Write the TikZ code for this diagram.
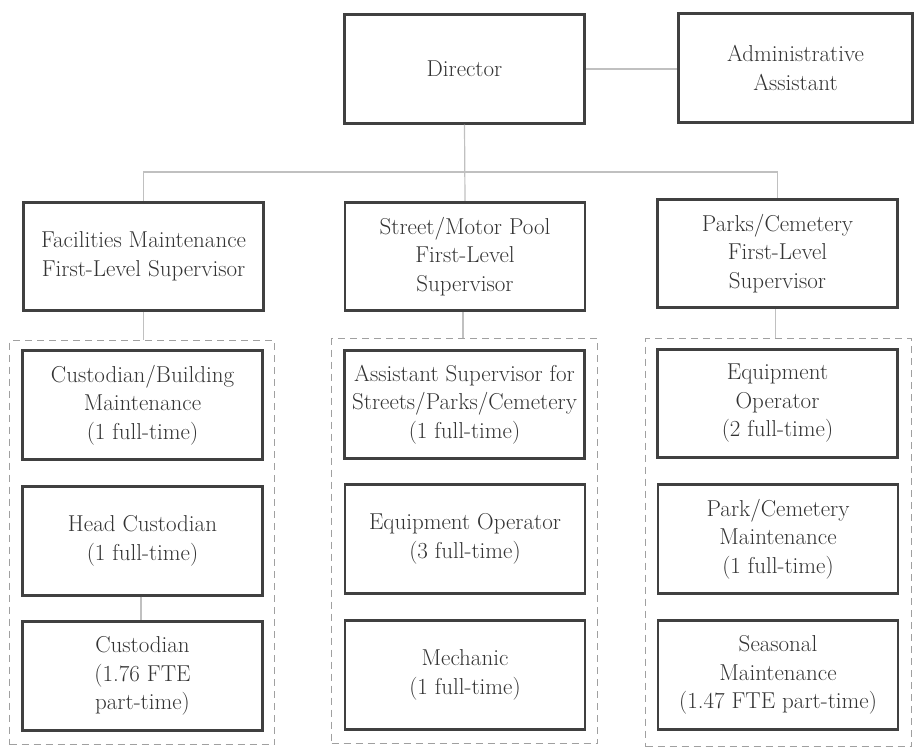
\documentclass[tikz,border=0pt]{standalone}
\usetikzlibrary{positioning}
\definecolor{boxline}{HTML}{404040}
\definecolor{txt}{HTML}{333333}
\definecolor{link}{HTML}{C0C0C0}
\definecolor{grp}{HTML}{A0A0A0}
\tikzset{
  role/.style={draw=boxline, line width=2.6pt, rectangle, inner sep=0pt,
    minimum width=240pt, minimum height=108.5pt, align=center, text=txt,
    font=\fontsize{23}{28.5}\selectfont},
  group/.style={draw=grp, line width=1.6pt, dash pattern=on 7pt off 5pt,
    rectangle, inner sep=0pt},
  wire/.style={draw=link, line width=1.2pt}
}
\begin{document}
\begin{tikzpicture}[x=1pt,y=-1pt]
\useasboundingbox (0,0) rectangle (915,751);

% dashed groups of staff under each supervisor
\node[group, minimum width=265pt, minimum height=404pt] (g1) at (142,542.5) {};
\node[group, minimum width=266pt, minimum height=405pt] (g2) at (464.5,541) {};
\node[group, minimum width=266pt, minimum height=408pt] (g3) at (778.5,542.5) {};

% top level
\node[role] (dir) at (464.5,69) {Director};
\node[role, minimum width=234pt] (adm) at (795.5,68) {Administrative\\Assistant};

% first-level supervisors
\node[role] (fac) at (143.5,256.5) {Facilities Maintenance\\First-Level Supervisor};
\node[role] (str) at (465,256.5) {Street/Motor Pool\\First-Level\\Supervisor};
\node[role] (prk) at (777.5,253.5) {Parks/Cemetery\\First-Level\\Supervisor};

% facilities staff
\node[role] (c1) at (142.5,405) {Custodian/Building\\Maintenance\\(1 full-time)};
\node[role] (c2) at (142.5,541) {Head Custodian\\(1 full-time)};
\node[role] (c3) at (142.5,676) {Custodian\\(1.76 FTE\\part-time)};

% street / motor pool staff
\node[role] (s1) at (464.5,404.5) {Assistant Supervisor for\\Streets/Parks/Cemetery\\(1 full-time)};
\node[role] (s2) at (465,539) {Equipment Operator\\(3 full-time)};
\node[role] (s3) at (465,675) {Mechanic\\(1 full-time)};

% parks / cemetery staff
\node[role] (p1) at (777.5,403.5) {Equipment\\Operator\\(2 full-time)};
\node[role] (p2) at (778,539) {Park/Cemetery\\Maintenance\\(1 full-time)};
\node[role] (p3) at (778,675) {Seasonal\\Maintenance\\(1.47 FTE part-time)};

% connectors
\coordinate (bus) at (465,172);
\draw[wire] (dir.east) -- (dir.east -| adm.west);
\draw[wire] (dir.south) -- (str.north);
\draw[wire] (fac.north) |- (bus) -| (prk.north);
\draw[wire] (fac.south) -- (fac.south |- g1.north);
\draw[wire] ([xshift=-2pt]str.south) -- ([xshift=-2pt]str.south |- g2.north);
\draw[wire] ([xshift=-2pt]prk.south) -- ([xshift=-2pt]prk.south |- g3.north);
\draw[wire] ([xshift=-1.5pt]c2.south) -- ([xshift=-1.5pt]c3.north);
\end{tikzpicture}
\end{document}
